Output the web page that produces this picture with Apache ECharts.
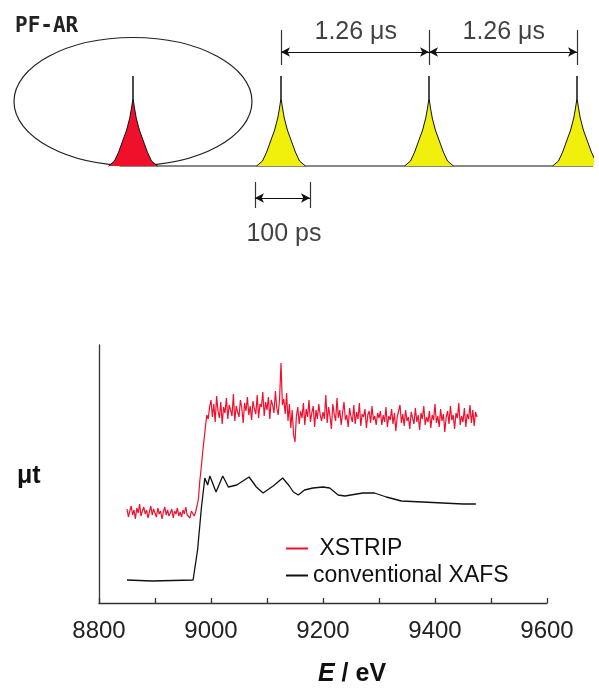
<!DOCTYPE html>
<html><head><meta charset="utf-8">
<script src="https://cdn.jsdelivr.net/npm/echarts@6/dist/echarts.min.js"></script>
<style>html,body{margin:0;padding:0;background:#fff;}#c{width:599px;height:688px;}</style>
</head><body><div id="c"></div>
<script>
// ---------- bottom panel: XANES spectra (mu t, arbitrary units) ----------
const xstripStartE = 8850;   // eV, first sample
const xstripStepE = 2.5;     // eV, sampling step
const xstripMu = [
  94, 86, 92, 97, 88, 93, 84, 95, 90, 99, 87, 92, 96, 89, 93, 85, 91, 97, 88, 94,
  90, 86, 95, 89, 92, 84, 91, 96, 88, 93, 87, 90, 94, 85, 92, 89, 95, 87, 91, 86,
  93, 89, 96, 88, 90, 85, 92, 94, 87, 91,
  97, 104, 122, 135, 150, 163, 176, 188, 184, 196,
  203, 186, 199, 181, 207, 192, 185, 201, 179, 196, 190, 205, 184, 198, 193, 187, 209, 182, 197, 191,
  186, 203, 195, 180, 200, 192, 206, 188, 197, 183, 202, 194, 189, 208, 185, 199, 196, 211, 187, 201,
  193, 206, 184, 203, 198, 190, 212, 195, 188, 205,
  240, 198, 204, 189, 210, 182, 199, 175, 193, 168, 161, 187, 196, 179, 192, 185, 200, 178, 194, 186,
  203, 181, 190, 197, 176, 193, 184, 199, 188, 182,
  191, 184, 208, 180, 196, 187, 174, 199, 189, 182, 205, 185, 193, 178, 190, 201, 183, 188, 176, 195,
  186, 181, 198, 179, 191, 184, 200, 177, 189, 186, 194, 175, 188, 192, 180, 197, 183, 187, 178, 190,
  185, 192, 178, 188, 181, 196, 176, 187, 183, 194, 179, 190, 172, 186, 184, 198, 180, 189, 177, 193,
  182, 186, 174, 191, 185, 179, 195, 181, 188, 173, 190, 184, 197, 178, 186, 181, 192, 175, 188, 183,
  199, 180, 187, 176, 194, 182, 189, 171, 186, 192, 179, 197, 183, 188, 174, 190, 185, 200, 178, 187,
  181, 195, 176, 189, 184, 198, 180, 193, 177, 191, 186
];
const xafsE = [8850, 8895, 8968, 8976, 8983, 8989, 8994, 8998, 9009, 9021, 9031, 9046, 9068, 9081, 9093, 9111, 9128, 9140, 9147, 9156, 9167, 9182, 9200, 9212, 9227, 9239, 9271, 9292, 9313, 9340, 9378, 9414, 9450, 9473];
const xafsMu = [23, 22, 23, 53, 96, 125, 118, 127, 111, 127, 116, 118, 126, 116, 110, 117, 125, 117, 111, 108, 113, 115, 116, 115, 108, 107, 110, 110, 106, 102, 101, 100, 99, 99];
const seriesNames = ['XSTRIP', 'conventional XAFS'];
const energyMin = 8800, energyMax = 9600, energyTickStep = 100, energyLabelStep = 200;

// ---------- top panel: PF-AR bunch structure (time in bunch periods) ----------
const bunchTimes = [0, 1, 2, 3];
const bunchColors = ['#f0102c', '#f0f00c', '#f0f00c', '#f0f00c'];
const pulseDx = [-0.165, -0.125, -0.097, -0.070, -0.043, -0.022, -0.010, 0, 0, 0, 0.010, 0.022, 0.043, 0.070, 0.097, 0.125, 0.165];
const pulseH  = [0, 0.05, 0.14, 0.25, 0.36, 0.48, 0.58, 0.68, 0.9, 0.68, 0.58, 0.48, 0.36, 0.25, 0.14, 0.05, 0];
const periodLabel = '1.26 μs';
const widthLabel = '100 ps';
const widthSpan = [0.824, 1.196];

const FONT = '"Liberation Sans", Arial, sans-serif';
const chart = echarts.init(document.getElementById('c'));

const xstripData = xstripMu.map((v, i) => [xstripStartE + i * xstripStepE, v]);
const xafsData = xafsE.map((e, i) => [e, xafsMu[i]]);

const pulseSeries = bunchTimes.map((t, k) => ({
  type: 'line', xAxisIndex: 1, yAxisIndex: 1, silent: true, clip: false,
  symbol: 'none', z: 3,
  lineStyle: { color: '#111', width: 1 },
  areaStyle: { color: bunchColors[k], opacity: 1 },
  data: pulseDx.map((d, i) => [t + d, pulseH[i]])
}));

const tickLines = [];
for (let k = 1; k < bunchTimes.length; k++) {
  tickLines.push([{ coord: [bunchTimes[k], 1.01] }, { coord: [bunchTimes[k], 1.36] }]);
}
tickLines.push([{ coord: [widthSpan[0], -0.16] }, { coord: [widthSpan[0], -0.42] }]);
tickLines.push([{ coord: [widthSpan[1], -0.16] }, { coord: [widthSpan[1], -0.42] }]);

const arrowLines = [];
for (let k = 1; k < bunchTimes.length - 1; k++) {
  arrowLines.push([{ coord: [bunchTimes[k], 1.14] }, { coord: [bunchTimes[k + 1], 1.14] }]);
}
arrowLines.push([{ coord: [widthSpan[0], -0.32] }, { coord: [widthSpan[1], -0.32] }]);

const labelPts = [];
for (let k = 1; k < bunchTimes.length - 1; k++) {
  labelPts.push({ value: [(bunchTimes[k] + bunchTimes[k + 1]) / 2 + 0.005, 1.34], name: periodLabel });
}
labelPts.push({ value: [(widthSpan[0] + widthSpan[1]) / 2 + 0.01, -0.68], name: widthLabel });

const option = {
  backgroundColor: '#fff',
  animation: false,
  textStyle: { fontFamily: FONT },
  grid: [
    { left: 99, right: 52, top: 345, bottom: 85 },
    { left: 14.6, right: 7.2, top: 21, bottom: 442 }
  ],
  xAxis: [
    {
      type: 'value', gridIndex: 0, min: energyMin, max: energyMax, interval: energyTickStep,
      axisLine: { show: true, lineStyle: { color: '#333', width: 1.3 } },
      axisTick: { show: true, inside: true, length: 5, lineStyle: { color: '#333', width: 1.3 } },
      axisLabel: {
        fontSize: 24, color: '#222', margin: 16, fontFamily: FONT,
        formatter: v => ((v - energyMin) % energyLabelStep === 0 ? String(v) : '')
      },
      splitLine: { show: false }
    },
    { type: 'value', gridIndex: 1, min: -0.8, max: 3.1, show: false }
  ],
  yAxis: [
    {
      type: 'value', gridIndex: 0, min: 0, max: 258,
      axisLine: { show: true, lineStyle: { color: '#333', width: 1.3 } },
      axisTick: { show: false }, axisLabel: { show: false }, splitLine: { show: false }
    },
    { type: 'value', gridIndex: 1, min: -0.8, max: 1.45, show: false }
  ],
  legend: {
    data: seriesNames, orient: 'vertical', left: 281, top: 532,
    icon: 'rect', itemWidth: 22, itemHeight: 2, itemGap: 4,
    textStyle: { fontSize: 23, color: '#111', fontFamily: FONT },
    formatter: n => (n === 'XSTRIP' ? ' ' + n : n)
  },
  series: [
    {
      name: seriesNames[0], type: 'line', xAxisIndex: 0, yAxisIndex: 0,
      symbol: 'none', color: '#f0102e', lineStyle: { width: 1.2, color: '#f0102e' },
      data: xstripData, z: 2
    },
    {
      name: seriesNames[1], type: 'line', xAxisIndex: 0, yAxisIndex: 0,
      symbol: 'none', color: '#111', lineStyle: { width: 1.3, color: '#111' },
      data: xafsData, z: 3
    },
    {
      type: 'line', xAxisIndex: 1, yAxisIndex: 1, silent: true, clip: false, symbol: 'none',
      lineStyle: { color: '#111', width: 1.2 }, z: 2,
      data: [[-0.09, 0], [3.25, 0]],
      markLine: {
        silent: true, symbol: ['none', 'none'], animation: false,
        lineStyle: { color: '#333', width: 1.2, type: 'solid' },
        label: { show: false }, data: tickLines
      }
    },
    {
      type: 'line', xAxisIndex: 1, yAxisIndex: 1, silent: true, clip: false, symbol: 'none',
      data: [],
      markLine: {
        silent: true, symbol: ['arrow', 'arrow'], symbolSize: [7, 9], animation: false,
        lineStyle: { color: '#111', width: 1.2, type: 'solid' },
        label: { show: false }, data: arrowLines
      }
    },
    {
      type: 'scatter', xAxisIndex: 1, yAxisIndex: 1, silent: true, clip: false,
      symbolSize: 1, itemStyle: { color: 'rgba(0,0,0,0)' },
      label: { show: true, position: 'inside', formatter: p => p.name, fontSize: 25, color: '#111', fontFamily: FONT },
      data: labelPts
    },
    ...pulseSeries
  ]
};
chart.setOption(option);

const ctr = chart.convertToPixel({ gridIndex: 1 }, [bunchTimes[0], 0.645]);
chart.setOption({
  graphic: [
    { type: 'ellipse', z: 1, shape: { cx: ctr[0], cy: ctr[1], rx: 119, ry: 64 },
      style: { fill: 'none', stroke: '#222', lineWidth: 1.2 }, silent: true },
    { type: 'text', left: 15, top: 16, silent: true,
      style: { text: 'PF-AR', font: 'bold 21px "DejaVu Sans Mono", monospace', fill: '#222' } },
    { type: 'text', left: 17, top: 464, silent: true,
      style: { text: 'μt', font: 'bold 25px ' + FONT, fill: '#111' } },
    { type: 'text', left: 318, top: 662, silent: true,
      style: {
        text: '{i|E} / eV', font: 'bold 25px ' + FONT, fill: '#111',
        rich: { i: { fontStyle: 'italic', fontWeight: 'bold', fontSize: 25, fontFamily: FONT, fill: '#111' } }
      } }
  ]
});
</script>
</body></html>
